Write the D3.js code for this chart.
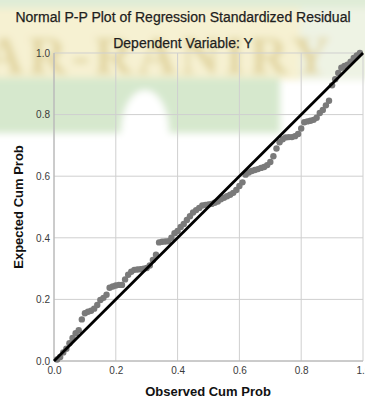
<!DOCTYPE html>
<html>
<head>
<meta charset="utf-8">
<script src="https://cdn.jsdelivr.net/npm/d3@7"></script>
<style>
  body { margin: 0; background: #fff; }
  svg { display: block; font-family: "Liberation Sans", Arial, sans-serif; }
</style>
</head>
<body>
<svg id="chart" width="365" height="400"></svg>
<script>
// observed cumulative probability (x) and expected cumulative probability (y)
const observed = [0.01,0.02,0.03,0.04,0.05,0.06,0.07,0.08,0.09,0.10,
  0.11,0.12,0.13,0.14,0.15,0.16,0.17,0.18,0.19,0.20,
  0.21,0.22,0.23,0.24,0.25,0.26,0.27,0.28,0.29,0.30,
  0.31,0.32,0.33,0.34,0.35,0.36,0.37,0.38,0.39,0.40,
  0.41,0.42,0.43,0.44,0.45,0.46,0.47,0.48,0.49,0.50,
  0.51,0.52,0.53,0.54,0.55,0.56,0.57,0.58,0.59,0.60,
  0.61,0.62,0.63,0.64,0.65,0.66,0.67,0.68,0.69,0.70,
  0.71,0.72,0.73,0.74,0.75,0.76,0.77,0.78,0.79,0.80,
  0.81,0.82,0.83,0.84,0.85,0.86,0.87,0.88,0.89,0.90,
  0.91,0.92,0.93,0.94,0.95,0.96,0.97,0.98,0.99];
const expected = [0.005,0.013,0.028,0.040,0.058,0.075,0.090,0.100,0.135,0.155,
  0.160,0.163,0.170,0.182,0.198,0.205,0.215,0.238,0.242,0.245,
  0.247,0.247,0.265,0.280,0.290,0.296,0.297,0.298,0.300,0.302,
  0.310,0.328,0.345,0.385,0.387,0.388,0.389,0.400,0.415,0.422,
  0.435,0.445,0.458,0.470,0.482,0.490,0.497,0.505,0.507,0.508,
  0.510,0.514,0.518,0.525,0.530,0.535,0.540,0.546,0.555,0.568,
  0.580,0.605,0.612,0.617,0.620,0.623,0.627,0.630,0.636,0.646,
  0.665,0.690,0.710,0.720,0.726,0.727,0.727,0.730,0.737,0.755,
  0.775,0.778,0.780,0.783,0.790,0.805,0.815,0.830,0.845,0.895,
  0.915,0.935,0.952,0.958,0.962,0.972,0.984,0.992,1.000];
const ticks = [0.0, 0.2, 0.4, 0.6, 0.8, 1.0];
const reference = [0, 1];

const title = "Normal P-P Plot of Regression Standardized Residual";
const subtitle = "Dependent Variable: Y";
const xTitle = "Observed Cum Prob";
const yTitle = "Expected Cum Prob";

const svg = d3.select("#chart");

// blurry watermark behind the chart
const defs = svg.append("defs");
defs.append("filter").attr("id", "blur")
  .append("feGaussianBlur").attr("stdDeviation", 3.5);
const wm = svg.append("g").attr("filter", "url(#blur)");
wm.append("rect").attr("x", -10).attr("y", -10).attr("width", 400).attr("height", 20).attr("fill", "#dfecd7");
wm.append("rect").attr("x", -10).attr("y", 8).attr("width", 320).attr("height", 72).attr("fill", "#f6f1d2");
wm.append("rect").attr("x", 300).attr("y", 8).attr("width", 80).attr("height", 72).attr("fill", "#eef3e4");
wm.append("rect").attr("x", -10).attr("y", 78).attr("width", 290).attr("height", 55).attr("fill", "#d6e8cd");
wm.append("ellipse").attr("cx", 145).attr("cy", 132).attr("rx", 24).attr("ry", 42).attr("fill", "#ffffff");
wm.append("text").attr("x", -15).attr("y", 74)
  .style("font-family", "'Liberation Serif', serif").style("font-weight", "bold")
  .style("font-size", "54px").attr("textLength", 345).attr("fill", "#e2d6a2")
  .text("AR-RANIRY");

const margin = { top: 53, right: 2, bottom: 39, left: 54 };
const width = 365 - margin.left - margin.right,
  height = 400 - margin.top - margin.bottom;

const x = d3.scaleLinear().domain([0, 1]).range([0, width]);
const y = d3.scaleLinear().domain([0, 1]).range([height, 0]);

const g = svg.append("g")
  .attr("transform", "translate(" + margin.left + "," + margin.top + ")");

// grid lines
g.append("g").selectAll("line").data(ticks).enter().append("line")
  .attr("x1", d => x(d)).attr("x2", d => x(d))
  .attr("y1", 0).attr("y2", height)
  .attr("stroke", "#cfcfcf").attr("stroke-width", 1);
g.append("g").selectAll("line").data(ticks).enter().append("line")
  .attr("x1", 0).attr("x2", width)
  .attr("y1", d => y(d)).attr("y2", d => y(d))
  .attr("stroke", "#cfcfcf").attr("stroke-width", 1);

// frame
g.append("line").attr("x1", 0).attr("x2", 0).attr("y1", 0).attr("y2", height)
  .attr("stroke", "#b0b0b0");
g.append("line").attr("x1", 0).attr("x2", width).attr("y1", height).attr("y2", height)
  .attr("stroke", "#b0b0b0");

// axes (labels only)
const xAxis = g.append("g")
  .attr("transform", "translate(0," + height + ")")
  .call(d3.axisBottom(x).tickValues(ticks).tickFormat(d3.format(".1f")).tickSize(0).tickPadding(6));
const yAxis = g.append("g")
  .call(d3.axisLeft(y).tickValues(ticks).tickFormat(d3.format(".1f")).tickSize(0).tickPadding(4));
[xAxis, yAxis].forEach(a => {
  a.select(".domain").remove();
  a.selectAll("text").style("font-size", "10px").style("font-family", "'Liberation Sans', Arial, sans-serif").attr("fill", "#3a3a3a");
});

// points
const pts = observed.map((o, i) => ({ o: o, e: expected[i] }));
g.append("g").selectAll("circle").data(pts).enter().append("circle")
  .attr("cx", d => x(d.o)).attr("cy", d => y(d.e))
  .attr("r", 3.2).attr("fill", "#7a7a7a");

// reference diagonal
g.append("line")
  .attr("x1", x(reference[0])).attr("y1", y(reference[0]))
  .attr("x2", x(reference[1])).attr("y2", y(reference[1]))
  .attr("stroke", "#000").attr("stroke-width", 2.8);

// titles
svg.append("text").attr("x", 183).attr("y", 22).attr("text-anchor", "middle")
  .style("font-size", "14px").attr("fill", "#1e1e1e")
  .attr("stroke", "#1e1e1e").attr("stroke-width", 0.25).text(title);
svg.append("text").attr("x", 183).attr("y", 48).attr("text-anchor", "middle")
  .style("font-size", "14px").attr("fill", "#1e1e1e")
  .attr("stroke", "#1e1e1e").attr("stroke-width", 0.25).text(subtitle);
svg.append("text").attr("x", 208).attr("y", 396).attr("text-anchor", "middle")
  .style("font-size", "13px").style("font-weight", "bold").attr("fill", "#111").text(xTitle);
svg.append("text").attr("transform", "translate(23,207) rotate(-90)").attr("text-anchor", "middle")
  .style("font-size", "13px").style("font-weight", "bold").attr("fill", "#111").text(yTitle);
</script>
</body>
</html>
